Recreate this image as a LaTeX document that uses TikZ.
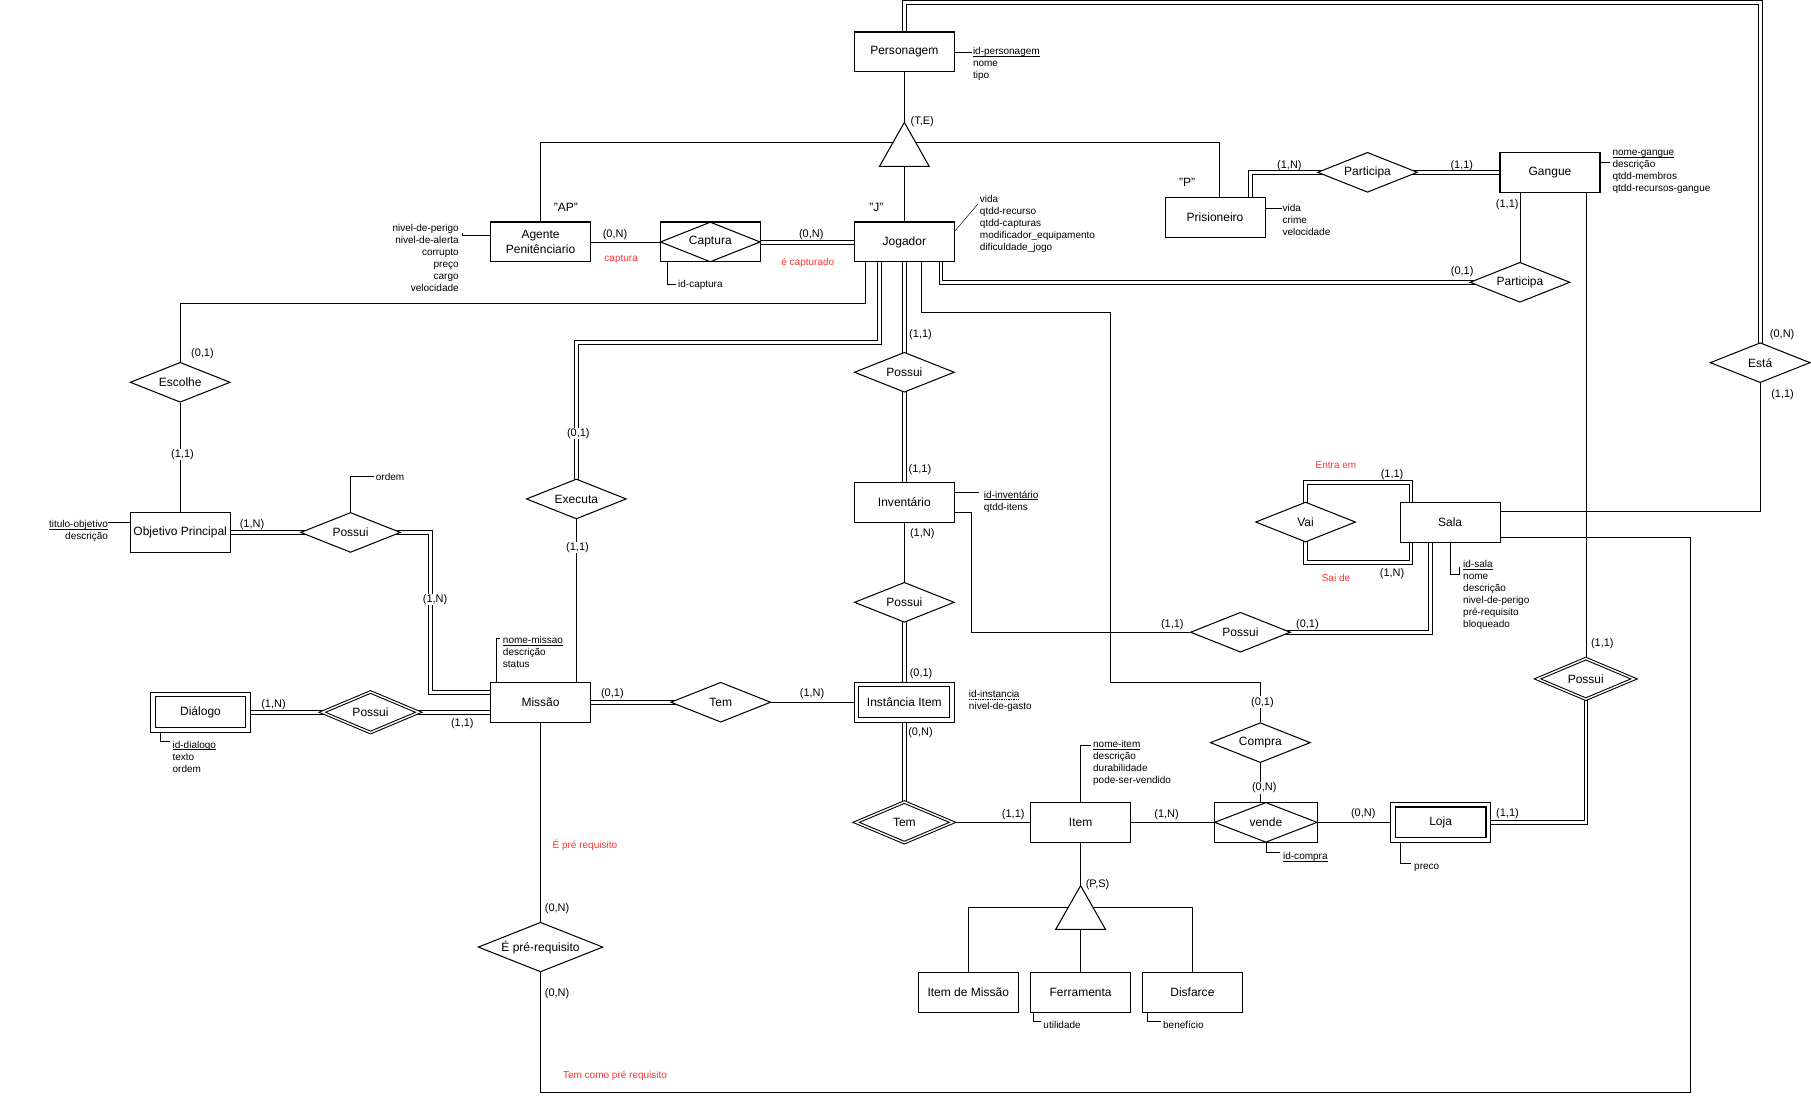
\documentclass[tikz,border=0pt]{standalone}
\usepackage{fontspec}
\setmainfont{Liberation Sans}
\usetikzlibrary{shapes.geometric}
\pgfdeclarelayer{bg}
\pgfsetlayers{bg,main}
\newcommand\entfont{\fontsize{10.4}{12.5}\selectfont}
\newcommand\attfont{\fontsize{8.66}{10.4}\selectfont}
\newcommand\cardfont{\fontsize{9.5}{11.4}\selectfont}
\definecolor{redlbl}{HTML}{FF3333}
\newcommand\keyul[1]{\setbox0\hbox{#1}\rlap{\raisebox{-1.6pt}{\rule{\wd0}{0.55pt}}}\box0}
\newcommand\dotkey[1]{\setbox0\hbox{#1}\rlap{\raisebox{-1.6pt}{\hbox to \wd0{\leaders\hbox to 1.5pt{\hss\rule{0.7pt}{0.6pt}\hss}\hfill}}}\box0}
\begin{document}
\begin{tikzpicture}[x=1pt,y=-1pt, line width=0.9pt,
  ent/.style={draw, fill=white, rectangle, minimum width=86.6pt, minimum height=34.6pt, inner sep=0pt, font=\entfont, align=center},
  wkent/.style={ent, double, double distance=3.1pt, minimum width=82.6pt, minimum height=30.6pt},
  rel/.style={draw, fill=white, diamond, shape aspect=2.5, minimum width=86.6pt, minimum height=34.6pt, inner sep=0pt, font=\entfont},
  wkrel/.style={rel, double, double distance=1.2pt, minimum width=84pt, minimum height=35.5pt},
  dbl/.style 2 args={preaction={draw, transform canvas={shift={(#1,#2)}}}, postaction={draw, transform canvas={shift={({-1*(#1)},{-1*(#2)})}}}},
  card/.style={inner sep=0pt, font=\cardfont},
  cardw/.style={card, fill=white, inner sep=0.6pt},
  quot/.style={inner sep=0pt, font=\entfont},
  redl/.style={inner sep=0pt, font=\attfont, text=redlbl},
  attl/.style={inner sep=0pt, font=\attfont, align=left, anchor=north west, execute at begin node=\strut},
  attr/.style={inner sep=0pt, font=\attfont, align=right, anchor=north east, execute at begin node=\strut},
]
\useasboundingbox (0,0) rectangle (1568,955);

% ---------- entities and relationships ----------
\node[ent] (pers) at (783,45) {Personagem};
\node[ent] (agente) at (468,209.5) {Agente\\Penitênciario};
\node[ent] (jog) at (783,209.5) {Jogador};
\node[ent] (capt) at (615,209.5) {};
\node[rel, fill=none] (captd) at (615,209.5) {Captura};
\node[ent] (pris) at (1052,188) {Prisioneiro};
\node[ent] (gang) at (1342,149.2) {Gangue};
\node[rel] (part1) at (1184,149.2) {Participa};
\node[rel] (part2) at (1316,244.4) {Participa};
\node[rel] (escolhe) at (156,331) {Escolhe};
\node[ent] (obj) at (156,461) {Objetivo Principal};
\node[rel] (poss1) at (303.5,461) {Possui};
\node[rel] (exec) at (499,432) {Executa};
\node[rel] (poss2) at (783,322.3) {Possui};
\node[ent] (inv) at (783,435) {Inventário};
\node[rel] (poss3) at (783,521.5) {Possui};
\node[wkent] (inst) at (783,608) {Instância Item};
\node[ent] (missao) at (468,608) {Missão};
\node[rel] (tem1) at (624,608) {Tem};
\node[wkent] (dial) at (173.6,616.7) {Diálogo};
\node[wkrel] (poss4) at (320.8,616.7) {Possui};
\node[rel, minimum width=108pt, minimum height=43pt] (prereq) at (468,820) {É pré-requisito};
\node[wkrel] (tem2) at (783,712) {Tem};
\node[ent] (item) at (935.6,712) {Item};
\node[ent, minimum width=89pt] (vende) at (1096,712) {};
\node[rel, minimum width=89pt, fill=none] (vended) at (1096,712) {vende};
\node[rel] (compra) at (1091.2,643) {Compra};
\node[wkent] (loja) at (1247.3,712) {Loja};
\node[wkrel] (poss5) at (1373,587.8) {Possui};
\node[ent] (sala) at (1255.5,452) {Sala};
\node[rel] (vai) at (1130.4,452) {Vai};
\node[rel] (poss6) at (1074,547.4) {Possui};
\node[rel] (esta) at (1524,314) {Está};
\node[ent] (itm) at (838.3,859.3) {Item de Missão};
\node[ent] (ferr) at (935.6,859.3) {Ferramenta};
\node[ent] (disf) at (1032.4,859.3) {Disfarce};

% ---------- specialisation triangles ----------
\coordinate (te1) at (783,106);
\coordinate (tb1) at (783,144);
\draw[fill=white] (te1) -- (761.5,144) -- (804.5,144) -- cycle;
\coordinate (te2) at (935.6,766.8);
\coordinate (tb2) at (935.6,804.6);
\draw[fill=white] (te2) -- (914.1,804.6) -- (957.1,804.6) -- cycle;
\coordinate (h1) at (783,123.2);
\coordinate (h2) at (935.6,785.6);
\coordinate (c1) at (961.5,590.5);
\coordinate (c2) at (1463,945.5);
\coordinate (topA) at (1156,2);
\coordinate (topB) at (1144,2);
\coordinate (vtA) at (1181,417.5);
\coordinate (vtB) at (1171,417.5);
\coordinate (vbA) at (1181,486.5);
\coordinate (vbB) at (1171,486.5);

% ---------- attribute texts ----------
\node[attl] (persattr) at (842,40.3) {\keyul{id-personagem}\\nome\\tipo};
\node[attr] (agattr) at (397.6,193.3) {nivel-de-perigo\\nivel-de-alerta\\corrupto\\preço\\cargo\\velocidade};
\node[attl] (jogattr) at (848,168.7) {vida\\qtdd-recurso\\qtdd-capturas\\modificador\_equipamento\\dificuldade\_jogo};
\node[attl] (captattr) at (586.7,241) {id-captura};
\node[attl] (prisattr) at (1110,176) {vida\\crime\\velocidade};
\node[attl] (gangattr) at (1395.7,129.8) {\keyul{nome-gangue}\\descrição\\qtdd-membros\\qtdd-recursos-gangue};
\node[attl] (invattr) at (851.5,424.4) {\keyul{id-inventário}\\qtdd-itens};
\node[attl] (instattr) at (838.5,597.3) {\dotkey{id-instancia}\\nivel-de-gasto};
\node[attl] (missattr) at (435,550.3) {\keyul{nome-missao}\\descrição\\status};
\node[attl] (dialattr) at (149,641) {\keyul{id-dialogo}\\texto\\ordem};
\node[attl] (salaattr) at (1266.4,485) {\keyul{id-sala}\\nome\\descrição\\nivel-de-perigo\\pré-requisito\\bloqueado};
\node[attl] (itemattr) at (946,640.8) {\keyul{nome-item}\\descrição\\durabilidade\\pode-ser-vendido};
\node[attl] (vendeattr) at (1110.5,736.7) {\keyul{id-compra}};
\node[attl] (lojaattr) at (1224,744.8) {preco};
\node[attl] (ferrattr) at (903,883) {utilidade};
\node[attl] (disfattr) at (1006.6,883) {benefício};
\node[attr] (objattr) at (94,450) {\keyul{titulo-objetivo}\\descrição};
\node[attl] (ordemtxt) at (325,408.6) {ordem};

% ---------- cardinalities ----------
\node[card] (k1) at (798.5,105) {(T,E)};
\node[card] (k2) at (532.5,203) {(0,N)};
\node[card] (k3) at (702.4,203) {(0,N)};
\node[card] (k4) at (1116.4,143) {(1,N)};
\node[card] (k5) at (1265.7,143) {(1,1)};
\node[card] (k6) at (1305,177) {(1,1)};
\node[card] (k7) at (1266,235.2) {(0,1)};
\node[card] (k8) at (1543,290) {(0,N)};
\node[card] (k9) at (1543.4,341.4) {(1,1)};
\node[card] (k10) at (175.3,306.5) {(0,1)};
\node[cardw] (k11) at (158,393.4) {(1,1)};
\node[cardw] (k12) at (500.7,375.2) {(0,1)};
\node[cardw] (k13) at (500,474.2) {(1,1)};
\node[card] (k14) at (218.2,454.3) {(1,N)};
\node[cardw] (k15) at (376.7,518.9) {(1,N)};
\node[card] (k16) at (236.8,609.8) {(1,N)};
\node[card] (k17) at (400.3,626.8) {(1,1)};
\node[card] (k18) at (797,290) {(1,1)};
\node[card] (k19) at (796.5,406.4) {(1,1)};
\node[card] (k20) at (798.5,462.3) {(1,N)};
\node[card] (k21) at (797.5,583.5) {(0,1)};
\node[card] (k22) at (530.2,600.9) {(0,1)};
\node[card] (k23) at (703.1,600.9) {(1,N)};
\node[card] (k24) at (797,634.3) {(0,N)};
\node[card] (k25) at (1015,541.1) {(1,1)};
\node[card] (k26) at (1132,541) {(0,1)};
\node[card] (k27) at (1205.3,410.7) {(1,1)};
\node[card] (k28) at (1205.3,497) {(1,N)};
\node[card] (k29) at (1387.3,557) {(1,1)};
\node[cardw] (k30) at (1093,608) {(0,1)};
\node[cardw] (k31) at (1094.6,682) {(0,N)};
\node[card] (k32) at (1180.3,704.8) {(0,N)};
\node[card] (k33) at (1305.2,704.8) {(1,1)};
\node[card] (k34) at (877.3,705.3) {(1,1)};
\node[card] (k35) at (1010,705.3) {(1,N)};
\node[card] (k36) at (950.3,766) {(P,S)};
\node[card] (k37) at (482.3,786.4) {(0,N)};
\node[card] (k38) at (482.3,860.6) {(0,N)};
\node[quot] (q1) at (490,179.8) {"AP"};
\node[quot] (q2) at (758.7,180) {"J"};
\node[quot] (q3) at (1027.8,158) {"P"};
\node[redl] (r1) at (537.8,224.2) {captura};
\node[redl] (r2) at (699.4,227.4) {é capturado};
\node[redl] (r3) at (1156.7,402.3) {Entra em};
\node[redl] (r4) at (1156.7,500.7) {Sai de};
\node[redl] (r5) at (506.4,732) {É pré requisito};
\node[redl] (r6) at (532.5,931.3) {Tem como pré requisito};

% ---------- connectors (behind the shapes) ----------
\begin{pgfonlayer}{bg}
\fill[white] (-5,-5) rectangle (1573,960);
% single lines
\draw (pers.south) -- (te1);
\draw (tb1) -- (jog.north);
\draw (agente.north) |- (h1) -| ([xshift=4pt]pris.north);
\draw (agente.east) -- (capt.west);
\draw ([xshift=-34pt]jog.south) -- ++(0,35) -| (escolhe.north);
\draw ([xshift=15pt]jog.south) -- ++(0,43.5) -| (c1) -| (compra.north);
\draw ([xshift=-26pt]gang.south) -- (part2.north);
\draw ([xshift=31pt]gang.south) -- (poss5.north);
\draw (esta.south) |- ([yshift=9pt]sala.east);
\draw ([yshift=-8.5pt]inv.east) -- ++(14,0) |- (poss6.west);
\draw ([yshift=-13.5pt]sala.east) -| (c2) -| (prereq.south);
\draw (missao.south) -- (prereq.north);
\draw (escolhe.south) -- (obj.north);
\draw (exec.south) -- (missao.north -| exec.south);
\draw (tem1.east) -- (inst.west);
\draw (inv.south) -- (poss3.north);
\draw (tem2.east) -- (item.west);
\draw (item.east) -- (vende.west);
\draw (compra.south) -- (compra.south |- vende.center);
\draw (vende.east) -- (loja.west);
\draw (item.south) -- (te2);
\draw (tb2) -- (ferr.north);
\draw (itm.north) |- (h2) -| (disf.north);
% double lines (two parallel strokes)
\path[dbl={0}{1.65}] (capt.center) -- (jog.center);
\path[dbl={1.65}{1.65}] ([xshift=-21.5pt]jog.center) -- ++(0,86.5) -| (exec.center);
\path[dbl={1.65}{0}] (jog.center) -- (poss2.center);
\path[dbl={1.65}{-1.65}] ([xshift=31.5pt]jog.center) |- (part2.center);
\path[dbl={1.65}{1.65}] ([xshift=30.2pt]pris.center) |- (part1.center);
\path[dbl={0}{1.65}] (part1.center) -- (gang.center);
\path[dbl={1.65}{1.65}] (poss5.center) |- (loja.center);
\path[dbl={1.65}{1.65}] (pers.center) |- (topA);
\path[dbl={1.65}{-1.65}] (topB) -| (esta.center);
\path[dbl={1.65}{1.65}] (vai.center) |- (vtA);
\path[dbl={1.65}{-1.65}] (vtB) -| ([xshift=-34pt]sala.center);
\path[dbl={1.65}{-1.65}] (vai.center) |- (vbA);
\path[dbl={1.65}{1.65}] (vbB) -| ([xshift=-34pt]sala.center);
\path[dbl={1.65}{1.65}] ([xshift=-17pt]sala.center) |- (poss6.center);
\path[dbl={1.65}{-1.65}] ([yshift=8.7pt]missao.center) -- ++(-95.2,0) |- (poss1.center);
\path[dbl={0}{1.65}] (poss1.center) -- (obj.center);
\path[dbl={0}{1.65}] (poss4.center) -- (missao.center |- poss4.center);
\path[dbl={0}{1.65}] (poss4.center) -- (dial.center);
\path[dbl={0}{1.65}] (missao.center) -- (tem1.center);
\path[dbl={1.65}{0}] (poss2.center) -- (inv.center);
\path[dbl={1.65}{0}] (poss3.center) -- (inst.center);
\path[dbl={1.65}{0}] (inst.center) -- (tem2.center);
% attribute leaders
\draw (pers.east) -- ++(15,0);
\draw ([yshift=6pt]agente.west) -- ++(-24,0) -- ++(0,-2);
\draw ([yshift=9.5pt]jog.east) -- ++(20,-23.5);
\draw ([xshift=-37pt]capt.south) -- ++(0,19.2) -- ++(7,0);
\draw ([yshift=8pt]pris.east) -- ++(14,0);
\draw ([yshift=8.7pt]gang.east) -- ++(8,0);
\draw ([yshift=8.7pt]inv.east) -- ++(21,0);
\draw ([xshift=-38.5pt]missao.north) -- ++(0,-37.5) -- ++(3,0);
\draw ([xshift=-35pt]dial.south) -- ++(0,9.3) -- ++(8.5,0);
\draw (sala.south) -- ++(0,27.4) -- ++(8.3,0) -- ++(0,-6.5);
\draw (item.north) -- ++(0,-49) -- ++(9,0);
\draw (vende.south) -- ++(0,8.5) -- ++(12.5,0);
\draw ([xshift=-35pt]loja.south) -- ++(0,19.7) -- ++(9,0);
\draw ([xshift=-41pt]ferr.south) -- ++(0,7.5) -- ++(6.5,0);
\draw ([xshift=-39.5pt]disf.south) -- ++(0,7.5) -- ++(12,0);
\draw ([yshift=9pt]obj.west) -- ++(-18.5,0);
\draw (poss1.north) -- ++(0,-30.5) -- ++(20,0);
\end{pgfonlayer}
\end{tikzpicture}
\end{document}
